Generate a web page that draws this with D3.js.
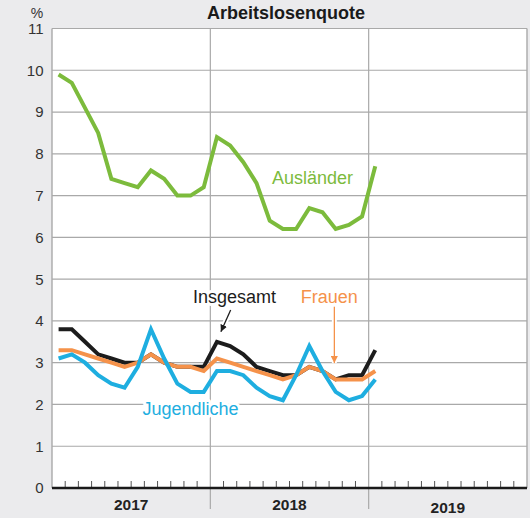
<!DOCTYPE html>
<html>
<head>
<meta charset="utf-8">
<script src="https://cdn.jsdelivr.net/npm/d3@7"></script>
<style>
  html, body { margin: 0; padding: 0; background: #ebebed; }
  svg { display: block; font-family: "Liberation Sans", Arial, Helvetica, sans-serif; }
</style>
</head>
<body>
<svg id="chart" width="530" height="518"></svg>
<script>
// Monthly unemployment rates (%), January 2017 – January 2019
const months = [
  "2017-01","2017-02","2017-03","2017-04","2017-05","2017-06",
  "2017-07","2017-08","2017-09","2017-10","2017-11","2017-12",
  "2018-01","2018-02","2018-03","2018-04","2018-05","2018-06",
  "2018-07","2018-08","2018-09","2018-10","2018-11","2018-12",
  "2019-01"
];
const years = ["2017", "2018", "2019"];
const yTicks = [0, 1, 2, 3, 4, 5, 6, 7, 8, 9, 10, 11];

const auslaender  = [9.9, 9.7, 9.1, 8.5, 7.4, 7.3, 7.2, 7.6, 7.4, 7.0, 7.0, 7.2,
                     8.4, 8.2, 7.8, 7.3, 6.4, 6.2, 6.2, 6.7, 6.6, 6.2, 6.3, 6.5, 7.7];
const insgesamt   = [3.8, 3.8, 3.5, 3.2, 3.1, 3.0, 3.0, 3.2, 3.0, 2.9, 2.9, 2.9,
                     3.5, 3.4, 3.2, 2.9, 2.8, 2.7, 2.7, 2.9, 2.8, 2.6, 2.7, 2.7, 3.3];
const frauen      = [3.3, 3.3, 3.2, 3.1, 3.0, 2.9, 3.0, 3.2, 3.0, 2.9, 2.9, 2.8,
                     3.1, 3.0, 2.9, 2.8, 2.7, 2.6, 2.7, 2.9, 2.8, 2.6, 2.6, 2.6, 2.8];
const jugendliche = [3.1, 3.2, 3.0, 2.7, 2.5, 2.4, 2.9, 3.8, 3.1, 2.5, 2.3, 2.3,
                     2.8, 2.8, 2.7, 2.4, 2.2, 2.1, 2.7, 3.4, 2.8, 2.3, 2.1, 2.2, 2.6];

const colors = {
  auslaender: "#7cbb3c",
  insgesamt: "#1c1c1c",
  frauen: "#f5924a",
  jugendliche: "#1eaee0",
  grid: "#a9a9a9"
};

const svg = d3.select("#chart");
const plot = { left: 52, right: 527, top: 28.5, bottom: 488 };
const monthsPerYear = 12;

// x: month index (0 = start of January 2017), points drawn at mid-month
const x = d3.scaleLinear()
  .domain([0, years.length * monthsPerYear])
  .range([plot.left, plot.right]);
const y = d3.scaleLinear()
  .domain([0, 11])
  .range([plot.bottom, plot.top]);

// plot background
svg.append("rect")
  .attr("x", plot.left).attr("y", plot.top)
  .attr("width", plot.right - plot.left).attr("height", plot.bottom - plot.top)
  .attr("fill", "#ffffff");

// horizontal grid
svg.append("g").selectAll("line")
  .data(yTicks.filter(d => d > 0))
  .join("line")
  .attr("x1", plot.left).attr("x2", plot.right)
  .attr("y1", d => y(d)).attr("y2", d => y(d))
  .attr("stroke", colors.grid).attr("stroke-width", 1.2);

// year separators (extend below the axis)
svg.append("g").selectAll("line")
  .data(d3.range(1, years.length))
  .join("line")
  .attr("x1", d => x(d * monthsPerYear)).attr("x2", d => x(d * monthsPerYear))
  .attr("y1", plot.top).attr("y2", 509)
  .attr("stroke", colors.grid).attr("stroke-width", 1.2);

// frame: left axis and right border
svg.append("line")
  .attr("x1", plot.left).attr("x2", plot.left)
  .attr("y1", plot.top).attr("y2", plot.bottom)
  .attr("stroke", colors.grid).attr("stroke-width", 1.4);
svg.append("line")
  .attr("x1", plot.right).attr("x2", plot.right)
  .attr("y1", plot.top).attr("y2", plot.bottom)
  .attr("stroke", colors.grid).attr("stroke-width", 1.4);

// y tick labels
svg.append("g").selectAll("text")
  .data(yTicks)
  .join("text")
  .attr("x", 43.5).attr("y", d => y(d))
  .attr("dy", "0.36em")
  .attr("text-anchor", "end")
  .attr("font-size", 15)
  .attr("fill", "#333")
  .text(d => d);

svg.append("text")
  .attr("x", 37).attr("y", 18)
  .attr("text-anchor", "middle")
  .attr("font-size", 14)
  .attr("fill", "#333")
  .text("%");

// title
svg.append("text")
  .attr("x", 286).attr("y", 19)
  .attr("text-anchor", "middle")
  .attr("font-size", 18)
  .attr("font-weight", "bold")
  .attr("fill", "#1a1a1a")
  .text("Arbeitslosenquote");

// month ticks along the bottom
svg.append("g").selectAll("line")
  .data(d3.range(1, years.length * monthsPerYear).filter(d => d % monthsPerYear !== 0))
  .join("line")
  .attr("x1", d => x(d)).attr("x2", d => x(d))
  .attr("y1", plot.bottom - 7).attr("y2", plot.bottom)
  .attr("stroke", "#555").attr("stroke-width", 1);

// line series
const line = d3.line()
  .x((d, i) => x(i + 0.5))
  .y(d => y(d));

const series = [
  { key: "auslaender", values: auslaender },
  { key: "insgesamt", values: insgesamt },
  { key: "frauen", values: frauen },
  { key: "jugendliche", values: jugendliche }
];

svg.append("g").selectAll("path")
  .data(series)
  .join("path")
  .attr("d", d => line(d.values))
  .attr("fill", "none")
  .attr("stroke", d => colors[d.key])
  .attr("stroke-width", 4)
  .attr("stroke-linejoin", "miter")
  .attr("stroke-linecap", "butt");

// bottom axis line
svg.append("line")
  .attr("x1", plot.left).attr("x2", plot.right)
  .attr("y1", plot.bottom).attr("y2", plot.bottom)
  .attr("stroke", "#1a1a1a").attr("stroke-width", 2.6);

// year labels
svg.append("g").selectAll("text")
  .data(years)
  .join("text")
  .attr("x", (d, i) => x(i * monthsPerYear + monthsPerYear / 2))
  .attr("y", (d, i) => i === 2 ? 513 : 510)
  .attr("text-anchor", "middle")
  .attr("font-size", 15.5)
  .attr("font-weight", "bold")
  .attr("fill", "#222")
  .text(d => d);

// arrow heads
const defs = svg.append("defs");
function marker(id, color) {
  defs.append("marker")
    .attr("id", id)
    .attr("viewBox", "0 0 10 10")
    .attr("refX", 10).attr("refY", 5)
    .attr("markerWidth", 7).attr("markerHeight", 7)
    .attr("markerUnits", "userSpaceOnUse")
    .attr("orient", "auto")
    .append("path")
    .attr("d", "M0,0 L10,5 L0,10 Z")
    .attr("fill", color);
}
marker("arrowBlack", colors.insgesamt);
marker("arrowOrange", colors.frauen);

// series labels with a white halo
const labels = [
  { text: "Ausländer",   key: "auslaender",  m: 16.67, v: 7.28 },
  { text: "Insgesamt",   key: "insgesamt",   m: 10.68, v: 4.43 },
  { text: "Frauen",      key: "frauen",      m: 18.85, v: 4.43 },
  { text: "Jugendliche", key: "jugendliche", m: 6.85,  v: 1.74 }
];

// pointers from labels to lines
const pointers = [
  { key: "insgesamt", from: [13.54, 4.26], to: [12.80, 3.74], marker: "arrowBlack", width: 1.3 },
  { key: "frauen",    from: [21.40, 4.34], to: [21.40, 2.99], marker: "arrowOrange", width: 1.3 }
];

const pg = svg.append("g");
pointers.forEach(p => {
  pg.append("line")
    .attr("x1", x(p.from[0])).attr("y1", y(p.from[1]))
    .attr("x2", x(p.to[0])).attr("y2", y(p.to[1]))
    .attr("stroke", "#fff").attr("stroke-width", 5);
});
pointers.forEach(p => {
  pg.append("line")
    .attr("x1", x(p.from[0])).attr("y1", y(p.from[1]))
    .attr("x2", x(p.to[0])).attr("y2", y(p.to[1]))
    .attr("stroke", colors[p.key]).attr("stroke-width", p.width)
    .attr("marker-end", `url(#${p.marker})`);
});

svg.append("g").selectAll("text")
  .data(labels)
  .join("text")
  .attr("x", d => x(d.m)).attr("y", d => y(d.v))
  .attr("font-size", 18)
  .attr("fill", d => colors[d.key])
  .attr("stroke", "#fff").attr("stroke-width", 6)
  .attr("stroke-linejoin", "round")
  .attr("paint-order", "stroke")
  .text(d => d.text);
</script>
</body>
</html>
